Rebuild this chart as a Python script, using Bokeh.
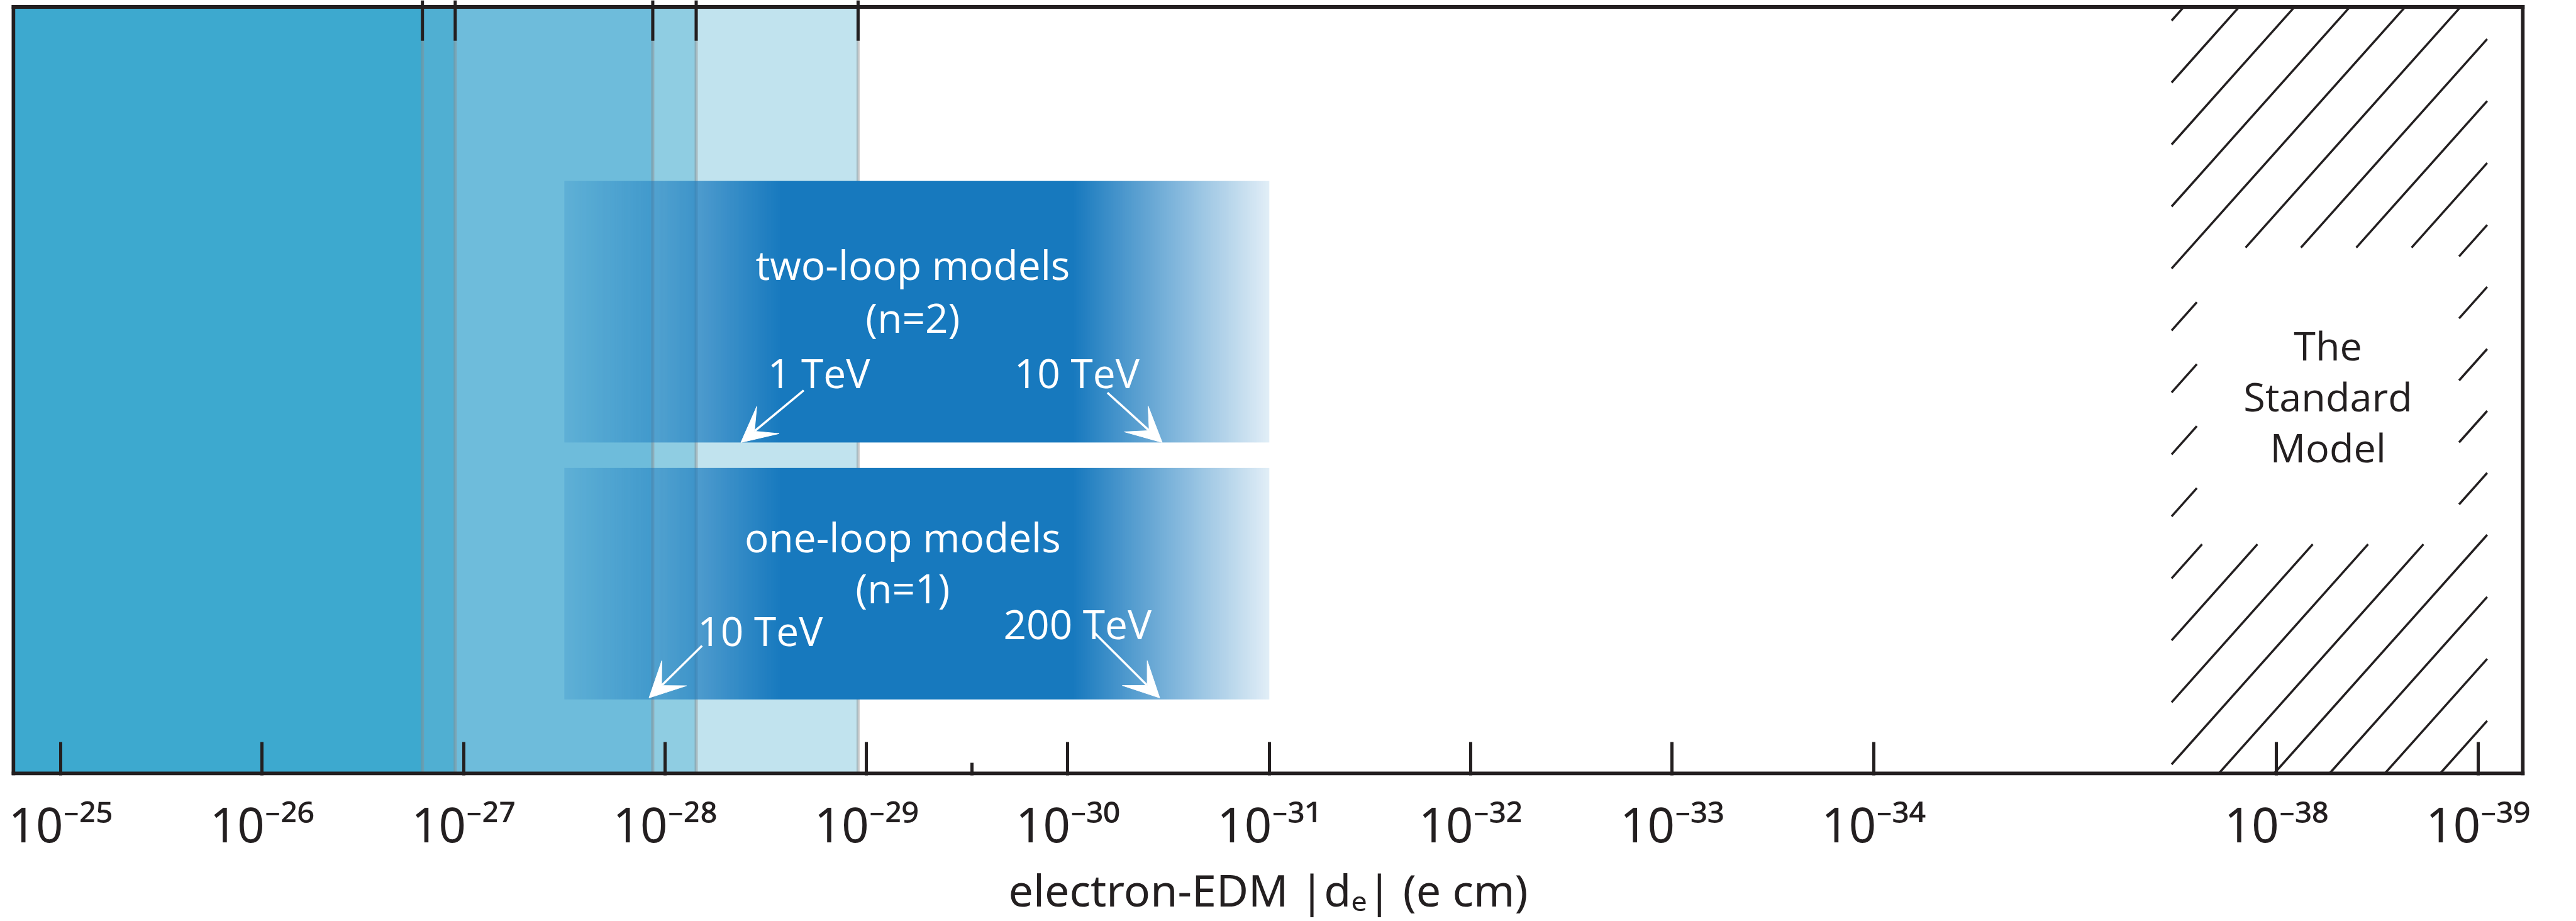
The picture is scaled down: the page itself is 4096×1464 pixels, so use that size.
import numpy as np
from bokeh.plotting import figure
from bokeh.models import (LinearAxis, FixedTicker, Range1d, ColumnDataSource,
                          Arrow, VeeHead)
from bokeh.embed import file_html
from bokeh.resources import INLINE
from bokeh.core.properties import value

# ---------------- data ----------------
# experimental upper limits on |d_e| (e cm), widest region first
limit_values = [1.1e-29, 7.0e-29, 1.15e-28, 1.1e-27, 1.6e-27]
limit_colors = ["#C1E3EE", "#8FCDE2", "#6EBCDB", "#50AFD2", "#3DA9CF"]

tick_exponents = [25, 26, 27, 28, 29, 30, 31, 32, 33, 34, 38, 39]
minor_tick_values = [3.0e-30]

# model bands (d_e range covered)
model_names = ["two-loop models", "one-loop models"]
model_n = ["(n=2)", "(n=1)"]
model_de_range = [(3.16e-28, 1.0e-31), (3.16e-28, 1.0e-31)]

# arrows: d_e predicted at given mass scale
arrow_labels = ["1 TeV", "10 TeV", "10 TeV", "200 TeV"]
arrow_de = [4.2e-29, 3.4e-31, 1.2e-28, 3.5e-31]

# Standard Model prediction region
sm_range = (1.1e-37, 9.0e-40)
sm_text = "The\nStandard\nModel"

x_title = "electron-EDM |dₑ| (e cm)"

SUP = str.maketrans("-0123456789", "⁻⁰¹²³⁴⁵⁶⁷⁸⁹")


def pos(v):
    """position along the (broken) log axis"""
    e = -np.log10(v)
    if e <= 34:
        return e
    if e >= 38:
        return e - 2
    return 34 + (e - 34) / 2.0


def epos(e):
    return pos(10.0 ** (-e))


# ---------------- geometry ----------------
INK = "#231F20"
U0, U1 = 24.765, 37.223          # axis units at the drawn box's left / right line
BOX_L, BOX_R = 20.7, 4011.0      # px positions of the drawn box lines
BOX_T, BOX_B = 10.6, 1235.0
KX = (BOX_R - BOX_L) / (U1 - U0)
KY = BOX_B - BOX_T
FR_L, FR_R, FR_T, FR_B = 18, 4014, 0, 1238   # bokeh frame (outer edge of box line)
X0 = U0 - (BOX_L - FR_L) / KX
X1 = U1 + (FR_R - BOX_R) / KX
Y0 = -(FR_B - BOX_B) / KY
Y1 = 1 + (BOX_T - FR_T) / KY

p = figure(width=4096, height=1464, x_range=Range1d(X0, X1), y_range=Range1d(Y0, Y1),
           x_axis_type=None, y_axis_type=None, toolbar_location=None,
           output_backend="svg", min_border_left=FR_L, min_border_right=4096 - FR_R,
           min_border_top=FR_T, min_border_bottom=1464 - FR_B)
p.background_fill_color = "white"
p.border_fill_color = "white"
p.outline_line_color = None

# limit regions
reg = ColumnDataSource(dict(
    left=[U0] * len(limit_values),
    right=[pos(v) for v in limit_values],
    bottom=[0] * len(limit_values),
    top=[1] * len(limit_values),
    color=limit_colors,
))
p.quad(left="left", right="right", bottom="bottom", top="top", source=reg,
       fill_color="color", line_color="#8c8c8c", line_alpha=0.45, line_width=5)

# model bands with gradient (style ramp)
slots = [(0.4318, 0.773), (0.0966, 0.3986)]
for (hi, lo), (yb, yt) in zip(model_de_range, slots):
    u0, u1 = pos(hi), pos(lo)
    n = 400
    uu = np.linspace(u0, u1, n)
    alpha = np.interp(uu, [u0, u0 + 1.07, u0 + 2.53, u1], [0.18, 1.0, 1.0, 0.13])
    img = np.empty((1, n), dtype=np.uint32)
    v = img.view(dtype=np.uint8).reshape((1, n, 4))
    v[0, :, 0] = 23
    v[0, :, 1] = 121
    v[0, :, 2] = 190
    v[0, :, 3] = (alpha * 255).astype(np.uint8)
    p.image_rgba(image=[img], x=u0, y=yb, dw=u1 - u0, dh=yt - yb)

# Standard model hatched region (hatch drawn as line pattern, hole for label)
s0, s1 = pos(sm_range[0]), pos(sm_range[1])
w = s1 - s0
hole = (s0 + 0.08 * w, s1 - 0.089 * w, 0.299, 0.686)
W = w * KX
H = KY
hx0, hx1 = (hole[0] - s0) * KX, (hole[1] - s0) * KX
hy0, hy1 = hole[2] * KY, hole[3] * KY
slope, step, phase = 1.125, 88.0, 75.0
hx_a, hy_a, hx_b, hy_b = [], [], [], []
c = phase - step * np.ceil((phase + H / slope) / step)
while c < W:
    a, b = max(c, 0.0), min(c + H / slope, W)
    if b > a:
        pieces = [(a, b)]
        ha, hb = max(c + hy0 / slope, hx0), min(c + hy1 / slope, hx1)
        if hb > ha:
            pieces = [(a, min(b, ha)), (max(a, hb), b)]
        for xa, xb in pieces:
            if xb - xa > 0.5:
                hx_a.append(s0 + xa / KX)
                hy_a.append(slope * (xa - c) / KY)
                hx_b.append(s0 + xb / KX)
                hy_b.append(slope * (xb - c) / KY)
    c += step
p.segment(x0=hx_a, y0=hy_a, x1=hx_b, y1=hy_b, line_color=INK, line_width=3.5,
          line_cap="butt")
p.text(x=[(hole[0] + hole[1]) / 2], y=[(hole[2] + hole[3]) / 2], text=[sm_text],
       text_font=value("Open Sans"), text_font_size="63px", text_color=INK,
       text_align="center", text_baseline="middle", text_line_height=0.95)

# band texts
mid = [(pos(a) + pos(b)) / 2 for a, b in model_de_range]
txt = ColumnDataSource(dict(
    x=[mid[0] - 0.02, mid[0] - 0.02, mid[1] - 0.07, mid[1] - 0.07,
       pos(arrow_de[0]) + 0.387, pos(arrow_de[1]) - 0.424,
       pos(arrow_de[2]) + 0.552, pos(arrow_de[3]) - 0.408],
    y=[0.664, 0.595, 0.309, 0.242, 0.5226, 0.5226, 0.186, 0.1956],
    text=[model_names[0], model_n[0], model_names[1], model_n[1]] + arrow_labels,
))
p.text(x="x", y="y", text="text", source=txt, text_font=value("Open Sans"),
       text_font_size="64px", text_color="white", text_align="center",
       text_baseline="alphabetic")

# arrows
tips_y = [0.4318, 0.4318, 0.0986, 0.0986]
offs = [(0.312, 0.068), (-0.272, 0.065), (0.263, 0.068), (-0.328, 0.086)]
arr = ColumnDataSource(dict(
    xs=[pos(v) + o[0] for v, o in zip(arrow_de, offs)],
    ys=[y + o[1] for y, o in zip(tips_y, offs)],
    xe=[pos(v) for v in arrow_de],
    ye=tips_y,
))
p.add_layout(Arrow(source=arr, x_start="xs", y_start="ys", x_end="xe", y_end="ye",
                   line_color="white", line_width=3.5,
                   end=VeeHead(size=56, fill_color="white", line_color="white",
                               line_width=1)))

# box lines
p.segment(x0=[U0, U0, U1, U0], y0=[1, 0, 0, 0], x1=[U1, U0, U1, U1], y1=[1, 1, 1, 0],
          line_color=INK, line_width=6, line_cap="square")

# top ticks: experimental limits (poke above the box line)
lim_pos = [pos(v) for v in limit_values]
p.segment(x0=lim_pos, y0=[Y1] * len(lim_pos), x1=lim_pos,
          y1=[1.0 - 54.0 / KY] * len(lim_pos), line_color=INK, line_width=5,
          line_cap="butt")

# bottom axis
tick_pos = [epos(e) for e in tick_exponents]
bax = LinearAxis(ticker=FixedTicker(ticks=tick_pos,
                                    minor_ticks=[pos(v) for v in minor_tick_values]))
bax.major_label_overrides = {t: "10" + ("-" + str(e)).translate(SUP)
                             for t, e in zip(tick_pos, tick_exponents)}
bax.axis_line_color = None
bax.major_tick_in = 53
bax.major_tick_out = 0
bax.minor_tick_in = 20
bax.minor_tick_out = 0
bax.major_tick_line_width = 5
bax.minor_tick_line_width = 5
bax.major_tick_line_color = INK
bax.minor_tick_line_color = INK
bax.major_label_text_font = "Noto Sans"
bax.major_label_text_font_size = "76px"
bax.major_label_text_color = INK
bax.major_label_standoff = 25
bax.axis_label = x_title
bax.axis_label_text_font = "Noto Sans"
bax.axis_label_text_font_size = "70px"
bax.axis_label_text_font_style = "normal"
bax.axis_label_text_color = INK
bax.axis_label_standoff = 2
p.add_layout(bax, "below")

open("out.html", "w").write(file_html(p, INLINE))
